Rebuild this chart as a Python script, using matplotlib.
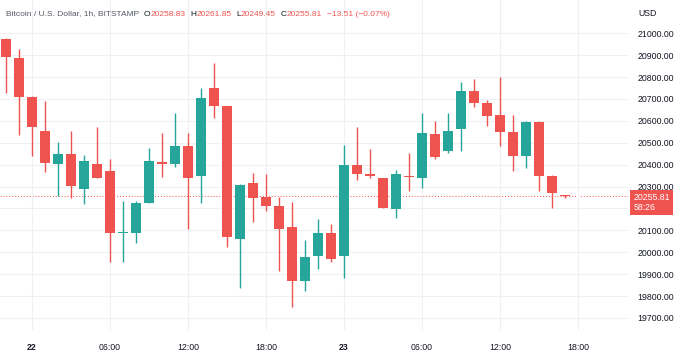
import matplotlib.pyplot as plt
import matplotlib.transforms as mtransforms

# hourly BTC/USD candles, 21st 22:00 -> 23rd 17:00
opens = [20972, 20886, 20711, 20556, 20402, 20449, 20288, 20403, 20370, 20089,
         20087, 20227, 20414, 20405, 20487, 20350, 20749, 20668, 20062, 20315,
         20253, 20209, 20117, 19871, 19983, 20087, 19983, 20400, 20359, 20339,
         20196, 20346, 20341, 20539, 20464, 20563, 20738, 20680, 20629, 20551,
         20440, 20597, 20346, 20258.83]
highs = [20977, 20928, 20715, 20693, 20505, 20556, 20444, 20574, 20425, 20236,
         20236, 20475, 20546, 20635, 20546, 20749, 20863, 20668, 20311, 20364,
         20358, 20254, 20231, 20056, 20151, 20129, 20489, 20574, 20470, 20339,
         20376, 20455, 20638, 20601, 20638, 20779, 20790, 20696, 20799, 20629,
         20600, 20600, 20353, 20261.85]
lows = [20726, 20536, 20440, 20365, 20259, 20250, 20219, 20339, 19957, 19957,
        20041, 20227, 20342, 20391, 20105, 20224, 20615, 20026, 19836, 20140,
        20189, 19916, 19752, 19824, 19922, 19954, 19881, 20330, 20339, 20201,
        20155, 20280, 20292, 20425, 20455, 20464, 20662, 20578, 20487, 20373,
        20384, 20279, 20204, 20249.45]
closes = [20893, 20708, 20574, 20406, 20451, 20304, 20416, 20339, 20087, 20093,
          20224, 20417, 20402, 20484, 20338, 20706, 20667, 20070, 20307, 20250,
          20209, 20105, 19871, 19980, 20090, 19971, 20397, 20358, 20347, 20201,
          20358, 20343, 20546, 20434, 20556, 20737, 20680, 20624, 20551, 20440,
          20597, 20346, 20269, 20255.81]

tick_pos = [2, 8, 14, 20, 26, 32, 38, 44]
tick_labels = ['22', '06:00', '12:00', '18:00', '23', '06:00', '12:00', '18:00']
price_ticks = list(range(19700, 21001, 100))
last_price = 20255.81
countdown = '58:26'
change = '\u221213.51 (\u22120.07%)'

up = '#26a69a'
down = '#ef5350'
txt = '#131722'
font = 'Liberation Sans'

fig = plt.figure(figsize=(6.79, 3.6), dpi=100)
ax = fig.add_axes([0, 30 / 360, 628 / 679, 330 / 360])

for i in range(len(opens)):
    o, h, l, c = opens[i], highs[i], lows[i], closes[i]
    col = up if c > o else down
    ax.vlines(i, l, h, color=col, lw=1, zorder=2)
    body = max(abs(c - o), 4)
    ax.bar(i, body, bottom=min(o, c) - (body - abs(c - o)) / 2, width=0.76,
           color=col, zorder=3)

ax.axhline(last_price, color=down, lw=0.7, ls=(0, (1, 2)), zorder=1)

ax.set_xlim(-0.46, 47.85)
ax.set_ylim(19645, 21152)

ax.set_xticks(tick_pos, tick_labels)
for lab in ax.get_xticklabels():
    lab.set_fontfamily(font)
    if lab.get_text() in ('22', '23'):
        lab.set_fontweight('bold')
ax.tick_params(axis='x', length=0, pad=9, labelsize=6.3, labelcolor=txt)

ax.yaxis.tick_right()
ax.set_yticks(price_ticks,
              ['' if p == 20200 else f'{p:.2f}' for p in price_ticks])
for lab in ax.get_yticklabels():
    lab.set_fontfamily(font)
ax.tick_params(axis='y', length=0, pad=7, labelsize=6.3, labelcolor=txt)

ax.grid(color='#eef0f4', lw=0.8, zorder=0)
for s in ax.spines.values():
    s.set_visible(False)

# last price tag on the price scale
tr = mtransforms.blended_transform_factory(ax.transAxes, ax.transData)
ax.annotate(f'{last_price:.2f}\n{countdown}', xy=(1, last_price), xycoords=tr,
            xytext=(4, -4.5), textcoords='offset points', ha='left', va='center',
            fontsize=6.3, family=font, color='white', linespacing=1.1,
            bbox=dict(boxstyle='square,pad=0.35', fc=down, ec='none'),
            annotation_clip=False)

# header line, each piece placed right after the previous one
hy = 1 - 14 / 360
fs = 6.0
prev = fig.text(6 / 679, hy, 'Bitcoin / U.S. Dollar, 1h, BITSTAMP', fontsize=fs,
                family=font, color='#555a66', va='center')
parts = [('O', txt, 3.5), (f'{opens[-1]:.2f}', down, 0), ('H', txt, 3.5),
         (f'{highs[-1]:.2f}', down, 0), ('L', txt, 3.5), (f'{lows[-1]:.2f}', down, 0),
         ('C', txt, 3.5), (f'{closes[-1]:.2f}', down, 0), (change, down, 3.5)]
for s, col, gap in parts:
    prev = ax.annotate(s, xy=(1, 0.5), xycoords=prev, xytext=(gap, 0),
                       textcoords='offset points', ha='left', va='center',
                       fontsize=fs, family=font, color=col, annotation_clip=False)
fig.text(638 / 679, hy, 'USD', fontsize=6.3, family=font, color=txt, va='center')

fig.savefig('out.png', dpi=100)
